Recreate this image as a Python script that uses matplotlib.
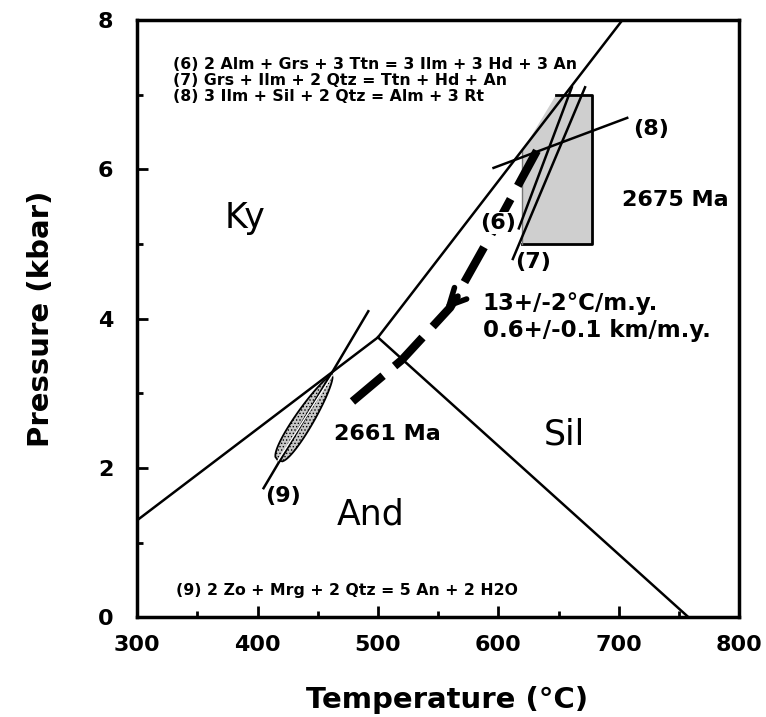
import matplotlib.pyplot as plt
import numpy as np
from matplotlib.patches import Polygon

# aluminosilicate phase boundaries (T in deg C, P in kbar)
ky_and_T = [300, 500]
ky_and_P = [1.3, 3.75]
ky_sil_T = [500, 703]
ky_sil_P = [3.75, 8.0]
and_sil_T = [500, 758]
and_sil_P = [3.75, 0.0]

# reaction lines (6) - (9)
rxn6_T = [617, 661]
rxn6_P = [5.21, 7.1]
rxn7_T = [612, 672]
rxn7_P = [4.80, 7.1]
rxn8_T = [596, 707]
rxn8_P = [6.02, 6.69]
rxn9_T = [405, 492]
rxn9_P = [1.73, 4.10]

# 2675 Ma P-T field
box_T = [620, 678, 678, 648, 620]
box_P = [5.0, 5.0, 7.0, 7.0, 6.25]

# 2661 Ma field (lens along reaction 9), bottom end -> top tip
lens_T = [417, 462]
lens_P = [2.10, 3.24]

# P-T path (dashed) and arrow
path_T = [632, 600, 560, 520, 478]
path_P = [6.25, 5.30, 4.15, 3.45, 2.88]
arrow_T = [568, 554]
arrow_P = [4.33, 4.09]

eq_lines = ["(6) 2 Alm + Grs + 3 Ttn = 3 Ilm + 3 Hd + 3 An",
            "(7) Grs + Ilm + 2 Qtz = Ttn + Hd + An",
            "(8) 3 Ilm + Sil + 2 Qtz = Alm + 3 Rt"]
eq9 = "(9) 2 Zo + Mrg + 2 Qtz = 5 An + 2 H2O"

plt.rcParams['hatch.color'] = '#8c8c8c'
plt.rcParams['hatch.linewidth'] = 0.6

fig = plt.figure(figsize=(7.66, 7.17), dpi=100)
ax = fig.add_axes([0.179, 0.139, 0.786, 0.833])
ax.set_xlim(300, 800)
ax.set_ylim(0, 8)

# shaded fields
ax.add_patch(Polygon(np.column_stack([box_T, box_P]), closed=True,
                     facecolor='#cfcfcf', edgecolor='none', hatch='.....', zorder=1))
ax.plot(box_T[:4], box_P[:4], color='black', lw=2, zorder=2)
ax.plot([box_T[4], box_T[0]], [box_P[4], box_P[0]], color='#777777', lw=1, zorder=2)

# lens built in display space so it keeps its shape
p0 = ax.transData.transform((lens_T[0], lens_P[0]))
p1 = ax.transData.transform((lens_T[1], lens_P[1]))
d = p1 - p0
L = np.hypot(*d)
u = d / L
nrm = np.array([-u[1], u[0]])
t = np.linspace(0, 1, 60)
w = 9.5 * (t ** 0.35) * ((1 - t) ** 0.6) / (0.368 ** 0.35 * 0.632 ** 0.6)
side1 = p0 + np.outer(t * L, u) + np.outer(w, nrm)
side2 = p0 + np.outer(t * L, u) - np.outer(w, nrm)
lens_disp = np.vstack([side1, side2[::-1]])
lens_data = ax.transData.inverted().transform(lens_disp)
ax.add_patch(Polygon(lens_data, closed=True, facecolor='#c8c8c8', edgecolor='black',
                     lw=1.3, hatch='.....', zorder=2))

# phase boundaries
for T, P in [(ky_and_T, ky_and_P), (ky_sil_T, ky_sil_P), (and_sil_T, and_sil_P)]:
    ax.plot(T, P, color='black', lw=1.8, zorder=3)

# reactions
for T, P in [(rxn6_T, rxn6_P), (rxn7_T, rxn7_P), (rxn8_T, rxn8_P), (rxn9_T, rxn9_P)]:
    ax.plot(T, P, color='black', lw=1.8, zorder=3)
ax.plot(lens_T, lens_P, color='white', lw=1.0, zorder=3)

# P-T path
ax.plot(path_T, path_P, color='black', lw=6, linestyle=(0, (4.8, 1.8)),
        solid_capstyle='butt', dash_capstyle='butt', zorder=4)
ax.annotate('', xy=(arrow_T[1], arrow_P[1]), xytext=(arrow_T[0], arrow_P[0]),
            arrowprops=dict(arrowstyle='->', lw=4, color='black', mutation_scale=30),
            zorder=5)

# field labels
ax.text(390, 5.35, 'Ky', fontsize=25, ha='center', va='center')
ax.text(494, 1.38, 'And', fontsize=25, ha='center', va='center')
ax.text(655, 2.45, 'Sil', fontsize=25, ha='center', va='center')

# reaction labels
ax.text(600, 5.28, '(6)', fontsize=16, fontweight='bold', ha='center', va='center', zorder=6,
        bbox=dict(facecolor='white', edgecolor='none', pad=0.5))
ax.text(629, 4.76, '(7)', fontsize=16, fontweight='bold', ha='center', va='center')
ax.text(727, 6.54, '(8)', fontsize=16, fontweight='bold', ha='center', va='center')
ax.text(421, 1.63, '(9)', fontsize=16, fontweight='bold', ha='center', va='center')

ax.text(703, 5.59, '2675 Ma', fontsize=16, fontweight='bold', ha='left', va='center')
ax.text(508, 2.45, '2661 Ma', fontsize=16, fontweight='bold', ha='center', va='center')
ax.text(587, 4.21, '13+/-2\u00b0C/m.y.', fontsize=16.5, fontweight='bold', ha='left', va='center')
ax.text(587, 3.84, '0.6+/-0.1 km/m.y.', fontsize=16.5, fontweight='bold', ha='left', va='center')

for i, s in enumerate(eq_lines):
    ax.text(330, 7.41 - 0.22 * i, s, fontsize=11.3, fontweight='bold', ha='left', va='center')
ax.text(332, 0.36, eq9, fontsize=11.3, fontweight='bold', ha='left', va='center')

# axes styling
ax.set_xticks([300, 400, 500, 600, 700, 800])
ax.set_xticks([350, 450, 550, 650, 750], minor=True)
ax.set_yticks([0, 2, 4, 6, 8])
ax.set_yticks([1, 3, 5, 7], minor=True)
ax.tick_params(which='major', direction='in', length=8, width=2, labelsize=16)
ax.tick_params(axis='x', which='major', pad=13)
ax.tick_params(axis='y', which='major', pad=17)
ax.tick_params(which='minor', direction='in', length=4, width=2)
for lab in ax.get_xticklabels() + ax.get_yticklabels():
    lab.set_fontweight('bold')
for sp in ax.spines.values():
    sp.set_linewidth(2.5)

ax.set_xlabel('Temperature (\u00b0C)', fontsize=21, fontweight='bold', va='center')
ax.set_ylabel('Pressure (kbar)', fontsize=21, fontweight='bold', va='center')
ax.xaxis.set_label_coords(0.515, -0.139)
ax.yaxis.set_label_coords(-0.16, 0.5)

fig.savefig('out.png', dpi=100)
